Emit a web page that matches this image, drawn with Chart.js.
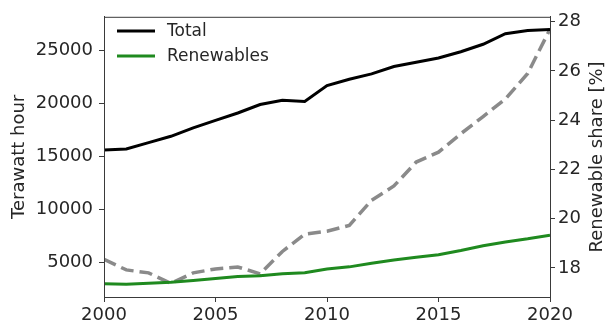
<!DOCTYPE html>
<html>
<head>
<meta charset="utf-8">
<script src="https://cdn.jsdelivr.net/npm/chart.js@4.4.1/dist/chart.umd.min.js"></script>
<style>
  html, body { margin: 0; padding: 0; background: #fff; }
  #wrap { width: 605px; height: 328px; }
</style>
</head>
<body>
<div id="wrap"><canvas id="energyChart"></canvas></div>
<script>
const years = [2000, 2001, 2002, 2003, 2004, 2005, 2006, 2007, 2008, 2009, 2010,
               2011, 2012, 2013, 2014, 2015, 2016, 2017, 2018, 2019, 2020];
const total = [15600, 15700, 16300, 16900, 17700, 18400, 19100, 19900, 20300, 20200, 21700,
               22300, 22800, 23500, 23900, 24300, 24900, 25600, 26600, 26900, 27000];
const renewables = [2950, 2900, 3000, 3100, 3270, 3450, 3630, 3700, 3900, 4000, 4350,
                    4550, 4900, 5200, 5450, 5700, 6100, 6550, 6900, 7200, 7550];
const renewableShare = [18.35, 17.92, 17.8, 17.37, 17.8, 17.96, 18.04, 17.76, 18.67, 19.37, 19.49,
                        19.73, 20.75, 21.33, 22.3, 22.7, 23.45, 24.15, 24.86, 25.9, 27.7];
const xTicks = [2000, 2005, 2010, 2015, 2020];
const leftTicks = [5000, 10000, 15000, 20000, 25000];
const rightTicks = [18, 20, 22, 24, 26, 28];

const FONT = 'DejaVu Sans';
const textColor = '#262626';
const axisColor = '#3a3a3a';

const toPoints = vals => vals.map((v, i) => ({ x: years[i], y: v }));

// frame, in-plot legend and right-hand axis label (matplotlib style)
const decorations = {
  id: 'decorations',
  afterDraw(chart) {
    const { ctx, chartArea: a } = chart;
    ctx.save();
    ctx.strokeStyle = axisColor;
    ctx.lineWidth = 1;
    ctx.strokeRect(a.left + 0.5, a.top + 0.5, a.right - a.left, a.bottom - a.top);

    const items = [
      { label: 'Total', color: '#000000', y: 31 },
      { label: 'Renewables', color: '#1f8a1f', y: 56 }
    ];
    ctx.font = '17px "' + FONT + '"';
    ctx.textBaseline = 'middle';
    items.forEach(it => {
      ctx.strokeStyle = it.color;
      ctx.lineWidth = 3;
      ctx.beginPath();
      ctx.moveTo(117, it.y);
      ctx.lineTo(155, it.y);
      ctx.stroke();
      ctx.fillStyle = textColor;
      ctx.fillText(it.label, 167, it.y + 1);
    });

    ctx.translate(597, (a.top + a.bottom) / 2);
    ctx.rotate(-Math.PI / 2);
    ctx.font = '18px "' + FONT + '"';
    ctx.textAlign = 'center';
    ctx.fillText('Renewable share [%]', 0, 0);
    ctx.restore();
  }
};

const tickGrid = { display: true, drawOnChartArea: false, drawTicks: true, tickLength: 5, color: axisColor };

new Chart(document.getElementById('energyChart'), {
  type: 'line',
  data: {
    datasets: [
      { label: 'Total', data: toPoints(total), yAxisID: 'y', borderColor: '#000000', borderWidth: 3 },
      { label: 'Renewables', data: toPoints(renewables), yAxisID: 'y', borderColor: '#1f8a1f', borderWidth: 3 },
      { label: 'Renewable share', data: toPoints(renewableShare), yAxisID: 'y2', borderColor: '#8a8a8a',
        borderWidth: 3.5, borderDash: [13, 6] }
    ]
  },
  options: {
    responsive: true,
    maintainAspectRatio: false,
    animation: false,
    layout: { padding: { top: 7, left: 0, right: 0, bottom: 0 } },
    elements: { point: { radius: 0 }, line: { tension: 0 } },
    plugins: { legend: { display: false }, tooltip: { enabled: false } },
    scales: {
      x: {
        type: 'linear', min: 2000, max: 2020,
        afterBuildTicks: s => { s.ticks = xTicks.map(v => ({ value: v })); },
        afterFit: s => { s.height = 31; },
        ticks: { color: textColor, font: { family: FONT, size: 18 }, padding: 3, maxRotation: 0,
                 callback: v => String(v) },
        grid: tickGrid,
        border: { display: true, color: axisColor }
      },
      y: {
        position: 'left', min: 1700, max: 28200,
        afterBuildTicks: s => { s.ticks = leftTicks.map(v => ({ value: v })); },
        afterFit: s => { s.width = 104; },
        ticks: { color: textColor, font: { family: FONT, size: 18 }, padding: 6, callback: v => String(v) },
        grid: tickGrid,
        border: { display: true, color: axisColor },
        title: { display: true, text: 'Terawatt hour', color: textColor, font: { family: FONT, size: 18 },
                 padding: { top: 9, bottom: 0 } }
      },
      y2: {
        position: 'right', min: 16.82, max: 28.2,
        afterBuildTicks: s => { s.ticks = rightTicks.map(v => ({ value: v })); },
        afterFit: s => { s.width = 55; },
        ticks: { color: textColor, font: { family: FONT, size: 18 }, padding: 3, callback: v => String(v) },
        grid: tickGrid,
        border: { display: true, color: axisColor }
      }
    }
  },
  plugins: [decorations]
});
</script>
</body>
</html>
